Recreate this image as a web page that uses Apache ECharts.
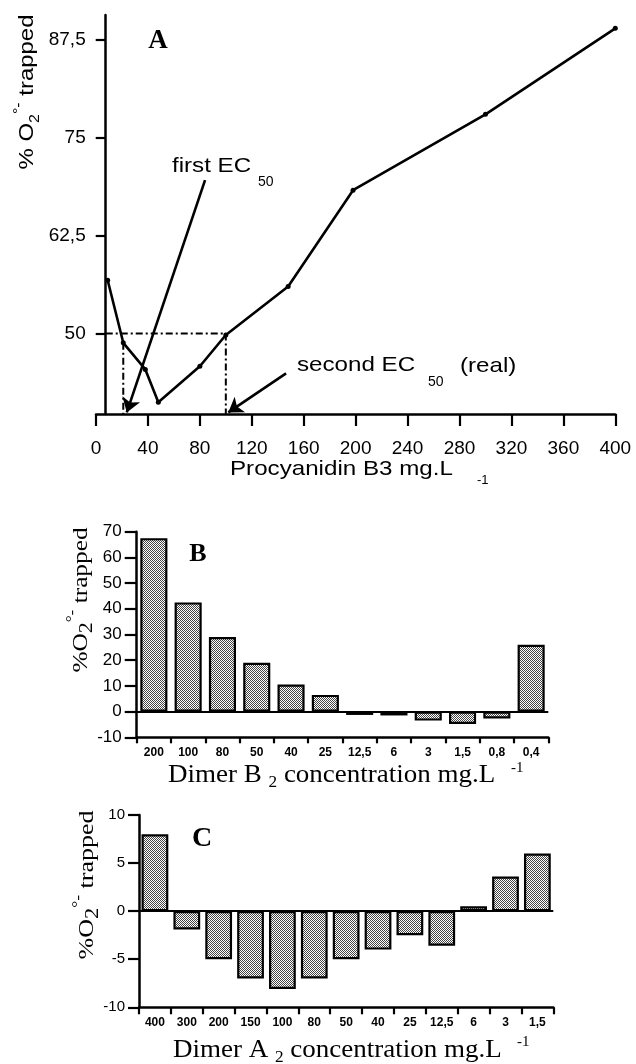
<!DOCTYPE html>
<html>
<head>
<meta charset="utf-8">
<script src="https://cdn.jsdelivr.net/npm/echarts@6/dist/echarts.min.js"></script>
<style>
html, body { margin: 0; padding: 0; background: #fff; }
#chart { width: 636px; height: 1064px; }
</style>
</head>
<body>
<div id="chart"></div>
<script>
// panel A - procyanidin B3, % O2 trapped
var procX = [9, 21, 38, 48, 80, 100, 148, 198, 300, 400];
var procY = [56.8, 48.8, 45.4, 41.2, 45.8, 49.8, 56.0, 68.3, 78.0, 89.0];
var procTicks = [50, 62.5, 75, 87.5];

// EC50 read-off lines and arrows (data coords)
var ec50Guides = [
    [[7.5, 50], [100, 50]],
    [[21, 48.8], [21, 39.7]],
    [[100, 50], [100, 39.7]]
];
var ec50Arrows = [
    [[84, 69.6], [23.7, 39.9]],
    [[146.4, 44.9], [101.9, 39.9]]
];

// panel B - dimer B2
var dimerBCats = ['200', '100', '80', '50', '40', '25', '12,5', '6', '3', '1,5', '0,8', '0,4'];
var dimerBVals = [67.5, 42.5, 29, 19, 10.5, 6.5, -1.3, -1.5, -3.5, -4.8, -2.7, 26];

// panel C - dimer A2
var dimerACats = ['400', '300', '200', '150', '100', '80', '50', '40', '25', '12,5', '6', '3', '1,5'];
var dimerAVals = [8, -1.9, -5, -7, -8.1, -7, -5, -4, -2.5, -3.6, 0.5, 3.6, 6];

var SANS = 'Liberation Sans, Arial, sans-serif';
var SERIF = 'Liberation Serif, Times New Roman, serif';

// stippled fill for the bars
var pat = document.createElement('canvas');
pat.width = 2;
pat.height = 2;
var pctx = pat.getContext('2d');
pctx.fillStyle = '#fff';
pctx.fillRect(0, 0, 2, 2);
pctx.fillStyle = '#444';
pctx.fillRect(0, 0, 1, 1);
pctx.fillRect(1, 1, 1, 1);

function txt(x, y, text, o) {
    o = o || {};
    return {
        type: 'text',
        x: x,
        y: y,
        rotation: o.rotation || 0,
        scaleX: o.scaleX || 1,
        silent: true,
        style: {
            text: text,
            fill: '#000',
            fontSize: o.size || 20,
            fontFamily: o.family || SANS,
            fontWeight: o.weight || 'normal',
            align: o.align || 'left',
            verticalAlign: 'middle',
            lineHeight: o.lineHeight,
            rich: o.rich
        }
    };
}

function tick(len) {
    return { show: true, length: len, lineStyle: { color: '#000', width: 2.2 } };
}
var axisLn = { show: true, onZero: false, lineStyle: { color: '#000', width: 2.5 } };

var chart = echarts.init(document.getElementById('chart'));

var guideSeries = ec50Guides.map(function (g) {
    return {
        type: 'line',
        xAxisIndex: 0,
        yAxisIndex: 0,
        data: g,
        symbol: 'none',
        silent: true,
        lineStyle: { color: '#000', width: 2, type: [7, 3, 2, 3] }
    };
});

var option = {
    animation: false,
    backgroundColor: '#fff',
    grid: [
        { left: 96, right: 20.7, top: 15, bottom: 650 },
        { left: 136.7, right: 87.7, top: 531.7, bottom: 326.7 },
        { left: 139, right: 82.7, top: 815, bottom: 56.7 }
    ],
    xAxis: [
        {
            type: 'value', gridIndex: 0, min: 0, max: 400, interval: 40,
            axisLine: axisLn,
            axisTick: tick(12),
            axisLabel: { color: '#000', fontSize: 19, fontFamily: SANS, margin: 25 },
            splitLine: { show: false }
        },
        {
            type: 'category', gridIndex: 1, data: dimerBCats,
            axisLine: axisLn,
            axisTick: Object.assign(tick(6), { interval: 0 }),
            axisLabel: { interval: 0, color: '#000', fontSize: 12, fontWeight: 'bold', fontFamily: SANS, margin: 9 }
        },
        {
            type: 'category', gridIndex: 2, data: dimerACats,
            axisLine: axisLn,
            axisTick: Object.assign(tick(7), { interval: 0 }),
            axisLabel: { interval: 0, color: '#000', fontSize: 12, fontWeight: 'bold', fontFamily: SANS, margin: 9 }
        }
    ],
    yAxis: [
        {
            type: 'value', gridIndex: 0, min: 39.7, max: 90.7, offset: -9.7,
            axisLine: axisLn,
            axisTick: Object.assign(tick(10), { customValues: procTicks }),
            axisLabel: {
                customValues: procTicks, color: '#000', fontSize: 19, fontFamily: SANS, margin: 20,
                formatter: function (v) { return String(v).replace('.', ','); }
            },
            splitLine: { show: false }
        },
        {
            type: 'value', gridIndex: 1, min: -10, max: 70, interval: 10,
            axisLine: axisLn,
            axisTick: tick(12),
            axisLabel: { color: '#000', fontSize: 17, fontFamily: SANS, margin: 15 },
            splitLine: { show: false }
        },
        {
            type: 'value', gridIndex: 2, min: -10, max: 10, interval: 5,
            axisLine: axisLn,
            axisTick: tick(11),
            axisLabel: { color: '#000', fontSize: 15, fontFamily: SANS, margin: 14 },
            splitLine: { show: false }
        }
    ],
    series: [
        {
            type: 'line',
            xAxisIndex: 0,
            yAxisIndex: 0,
            data: procX.map(function (x, i) { return [x, procY[i]]; }),
            symbol: 'circle',
            symbolSize: 5,
            itemStyle: { color: '#000' },
            lineStyle: { color: '#000', width: 2.6 },
            markLine: {
                silent: true,
                symbol: ['none', 'arrow'],
                symbolSize: 14,
                label: { show: false },
                itemStyle: { color: '#000' },
                lineStyle: { color: '#000', width: 2.6, type: 'solid' },
                data: ec50Arrows.map(function (a) {
                    return [{ coord: a[0] }, { coord: a[1] }];
                })
            }
        }
    ].concat(guideSeries).concat([
        {
            type: 'bar',
            xAxisIndex: 1,
            yAxisIndex: 1,
            data: dimerBVals,
            barCategoryGap: '21%',
            itemStyle: { color: { image: pat, repeat: 'repeat' }, borderColor: '#000', borderWidth: 2.2 },
            markLine: {
                silent: true, symbol: 'none', label: { show: false },
                lineStyle: { color: '#000', width: 2.2, type: 'solid' },
                data: [{ yAxis: 0 }]
            }
        },
        {
            type: 'bar',
            xAxisIndex: 2,
            yAxisIndex: 2,
            data: dimerAVals,
            barCategoryGap: '16%',
            itemStyle: { color: { image: pat, repeat: 'repeat' }, borderColor: '#000', borderWidth: 2.2 },
            markLine: {
                silent: true, symbol: 'none', label: { show: false },
                lineStyle: { color: '#000', width: 2.2, type: 'solid' },
                data: [{ yAxis: 0 }]
            }
        }
    ]),
    graphic: [
        // panel A
        txt(158, 41, 'A', { size: 27, family: SERIF, weight: 'bold', align: 'center' }),
        txt(172, 166, 'first EC', { size: 21, scaleX: 1.15 }),
        txt(258, 182, '50', { size: 14 }),
        txt(297, 365, 'second EC', { size: 21, scaleX: 1.15 }),
        txt(428, 382, '50', { size: 14 }),
        txt(460, 366, '(real)', { size: 21, scaleX: 1.15 }),
        txt(230, 469, 'Procyanidin B3 mg.L', { size: 21, scaleX: 1.15 }),
        txt(477, 480, '-1', { size: 13 }),
        txt(27, 92, '% O{sub|2}{sup|°-} trapped', {
            size: 21, scaleX: 1.14, rotation: Math.PI / 2, align: 'center', lineHeight: 30,
            rich: {
                sub: { fontSize: 14, verticalAlign: 'bottom', lineHeight: 14 },
                sup: { fontSize: 14, verticalAlign: 'top', lineHeight: 14 }
            }
        }),
        // panel B
        txt(198, 554, 'B', { size: 26, family: SERIF, weight: 'bold', align: 'center' }),
        txt(81, 600, '%O{sub|2}{sup|°-} trapped', {
            size: 22, family: SERIF, scaleX: 1.15, rotation: Math.PI / 2, align: 'center', lineHeight: 32,
            rich: {
                sub: { fontSize: 19, fontFamily: SERIF, verticalAlign: 'bottom', lineHeight: 19 },
                sup: { fontSize: 15, fontFamily: SERIF, verticalAlign: 'top', lineHeight: 15 }
            }
        }),
        txt(168, 775, 'Dimer B {sub|2} concentration mg.L', {
            size: 25, family: SERIF, scaleX: 1.08, lineHeight: 32,
            rich: { sub: { fontSize: 16, fontFamily: SERIF, verticalAlign: 'bottom', lineHeight: 16 } }
        }),
        txt(511, 768, '-1', { size: 15, family: SERIF }),
        // panel C
        txt(202, 839, 'C', { size: 28, family: SERIF, weight: 'bold', align: 'center' }),
        txt(87, 885, '%O{sub|2}{sup|°-} trapped', {
            size: 22, family: SERIF, scaleX: 1.18, rotation: Math.PI / 2, align: 'center', lineHeight: 32,
            rich: {
                sub: { fontSize: 19, fontFamily: SERIF, verticalAlign: 'bottom', lineHeight: 19 },
                sup: { fontSize: 15, fontFamily: SERIF, verticalAlign: 'top', lineHeight: 15 }
            }
        }),
        txt(173, 1050, 'Dimer A {sub|2} concentration mg.L', {
            size: 25, family: SERIF, scaleX: 1.08, lineHeight: 32,
            rich: { sub: { fontSize: 16, fontFamily: SERIF, verticalAlign: 'bottom', lineHeight: 16 } }
        }),
        txt(517, 1042, '-1', { size: 15, family: SERIF })
    ]
};

chart.setOption(option);
</script>
</body>
</html>
